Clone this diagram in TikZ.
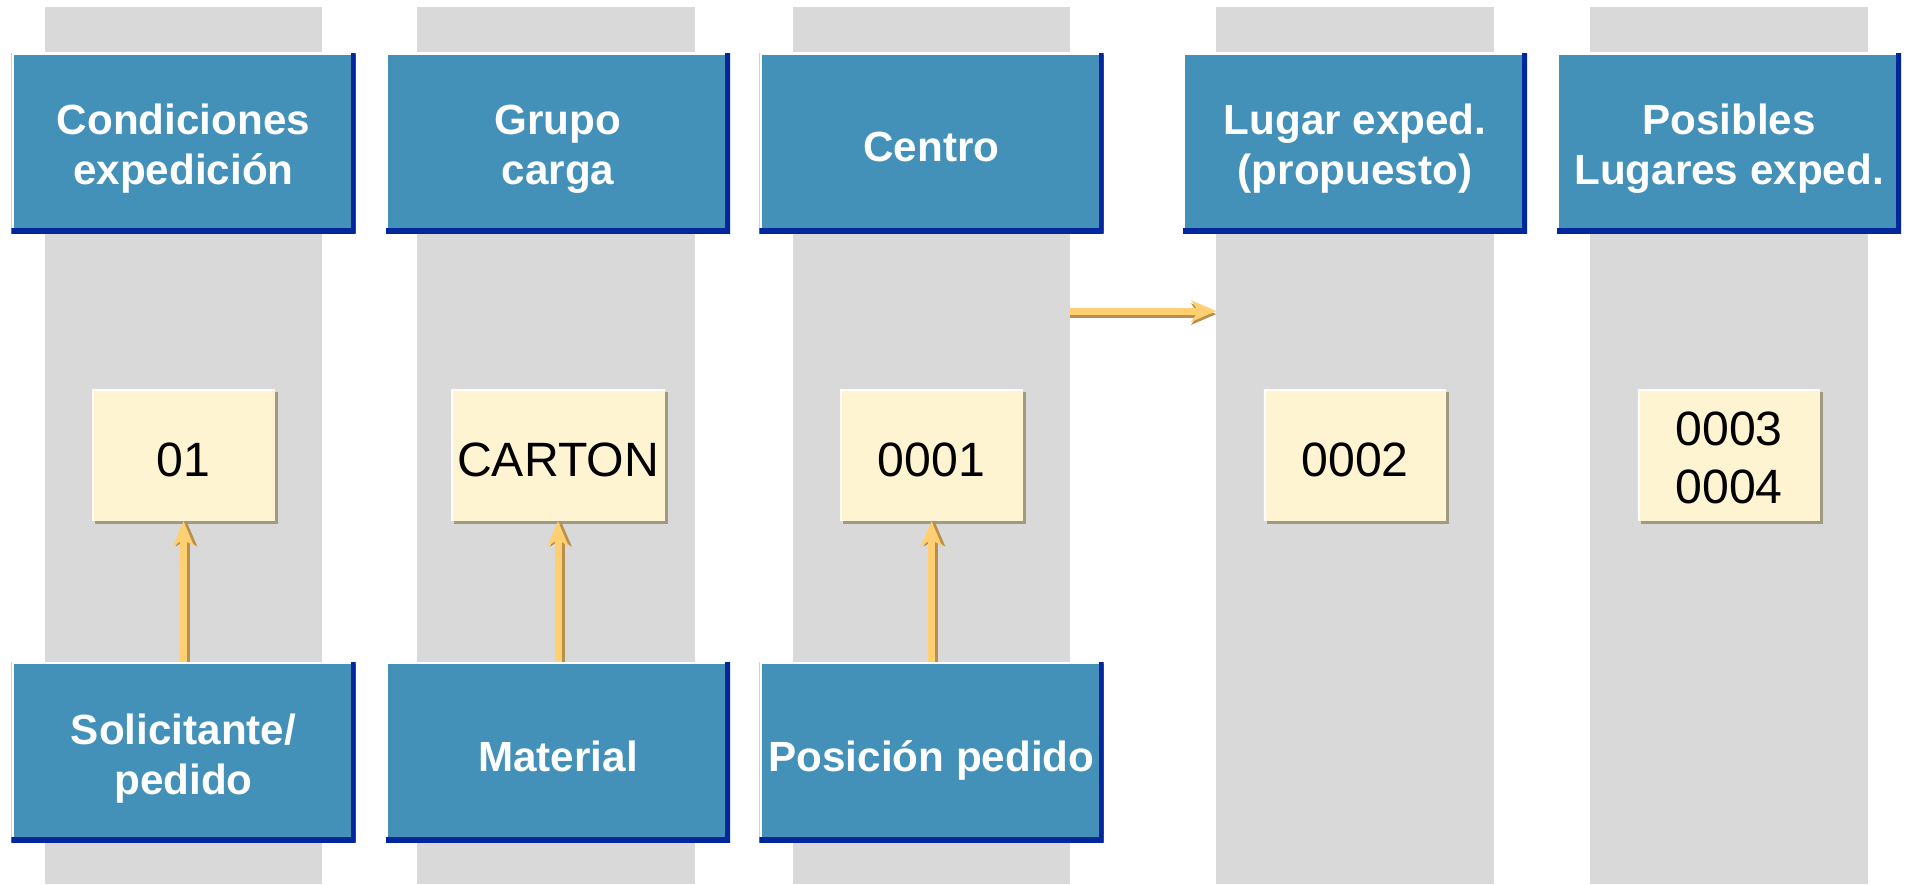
\documentclass[tikz,border=0pt]{standalone}
\usepackage{fontspec}
\setmainfont{Liberation Sans}
\usetikzlibrary{arrows.meta,positioning,shadows,calc}
\definecolor{colgray}{HTML}{D9D9D9}
\definecolor{boxblue}{HTML}{4391B9}
\definecolor{edgeblue}{HTML}{00289C}
\definecolor{valfill}{HTML}{FFF4D2}
\definecolor{valshade}{HTML}{A09A80}
\definecolor{flowfill}{HTML}{FFCF72}
\definecolor{flowshade}{HTML}{B8904A}

\begin{document}
\begin{tikzpicture}[x=0.01cm,y=0.01cm,
  col/.style={fill=colgray,minimum width=2.77cm,minimum height=8.77cm,inner sep=0pt,outer sep=0pt},
  hd/.style={fill=boxblue,text=white,minimum width=3.44cm,minimum height=1.8cm,inner sep=1pt,outer sep=0pt,align=center,
    font=\fontsize{12}{14.2}\selectfont\bfseries,text height=23.8pt,text depth=0pt,
    path picture={\draw[white,line width=1.2pt] (path picture bounding box.south west) -- (path picture bounding box.north west) -- (path picture bounding box.north east);
      \draw[edgeblue,line width=2.9pt] (path picture bounding box.north east) -- (path picture bounding box.south east) -- (path picture bounding box.south west);}},
  single/.style={text height=10.7pt},
  val/.style={fill=valfill,minimum width=1.82cm,minimum height=1.32cm,inner sep=0.06cm,outer sep=0pt,align=center,
    font=\fontsize{13.7}{16.5}\selectfont,text height=12pt,text depth=0pt,
    drop shadow={shadow xshift=0.03cm,shadow yshift=-0.03cm,fill=valshade,opacity=1},
    path picture={\draw[white,line width=1pt] (path picture bounding box.south west) -- (path picture bounding box.north west) -- (path picture bounding box.north east);}},
  flow/.style={-{Stealth[length=0.25cm,width=0.21cm,inset=0.07cm]},line width=0.07cm,draw=flowfill},
  flowsh/.style={flow,draw=flowshade}]
\useasboundingbox (0,0) rectangle (1907,884);
% columns
\node[col] (col1) at (183.5,438.5) {};
\node[col] (col2) at (556,438.5) {};
\node[col] (col3) at (931.5,438.5) {};
\node[col] (col4) at (1355,438.5) {};
\node[col] (col5) at (1729,438.5) {};
% header row
\node[hd] (cond) at (183.5,741) {Condiciones\\expedición};
\node[hd] (grupo) at (558,741) {Grupo\\carga};
\node[hd,single] (cen) at (931.5,741) {Centro};
\node[hd] (lug) at (1355,741) {Lugar exped.\\(propuesto)};
\node[hd] (posib) at (1729,741) {Posibles\\Lugares exped.};
% values
\node[val,below=1.56cm of cond] (v1) {01};
\node[val,below=1.56cm of grupo] (v2) {CARTON};
\node[val,below=1.56cm of cen] (v3) {0001};
\node[val,below=1.56cm of lug] (v4) {0002};
\node[val,below=1.56cm of posib,text height=27.7pt] (v5) {0003\\0004};
% sources
\node[hd,below=1.41cm of v1] (sol) {Solicitante/\\pedido};
\node[hd,single,below=1.41cm of v2] (mat) {Material};
\node[hd,single,below=1.41cm of v3] (pped) {Posición pedido};
% arrows
\draw[flowsh] ([xshift=0.03cm]sol.north) -- ([xshift=0.03cm]v1.south);
\draw[flow] (sol.north) -- (v1.south);
\draw[flowsh] ([xshift=0.03cm]mat.north) -- ([xshift=0.03cm]v2.south);
\draw[flow] (mat.north) -- (v2.south);
\draw[flowsh] ([xshift=0.03cm]pped.north) -- ([xshift=0.03cm]v3.south);
\draw[flow] (pped.north) -- (v3.south);
\coordinate (mid) at ($(cen.south)!.5!(v3.north)$);
\coordinate (hs) at (col3.east |- mid);
\coordinate (he) at (col4.west |- mid);
\draw[flowsh] ([yshift=-0.03cm]hs) -- ([yshift=-0.03cm]he);
\draw[flow] (hs) -- (he);
\end{tikzpicture}
\end{document}
